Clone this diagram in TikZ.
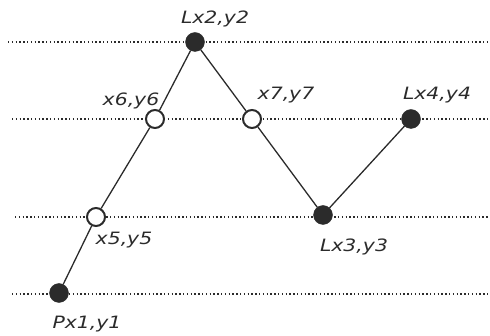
\documentclass[tikz,border=0pt]{standalone}
\usepackage{fontspec}
\newfontfamily\ptfont{DejaVu Sans}[FakeStretch=1.2]
\usetikzlibrary{positioning}
\definecolor{ink}{HTML}{2B2B2B}

\begin{document}
\begin{tikzpicture}[
        x=1pt, y=-1pt,
        every node/.style={font=\ptfont\itshape\fontsize{17}{19}\selectfont, text=ink},
        fixed/.style={circle, draw=ink, fill=ink, minimum size=19pt, inner sep=0pt},
        free/.style={circle, draw=ink, line width=2pt, fill=white, minimum size=18pt, inner sep=0pt},
        ptlabel/.style={anchor=base, inner sep=0pt},
        guide/.style={ink, line width=1.1pt, dash pattern=on 1.4pt off 2.4pt},
        link/.style={ink, line width=1.3pt}
        ]
    \useasboundingbox (0,0) rectangle (490,336);

    % dotted levels
    \draw[guide] (8,42) -- (490,42);
    \draw[guide] (12,119) -- (490,119);
    \draw[guide] (15,217) -- (490,217);
    \draw[guide] (12,294) -- (490,294);

    % points on the levels
    \node[fixed] (p1) at (59,293) {};
    \node[free] (x5) at (96,217) {};
    \node[free] (x6) at (155,119) {};
    \node[fixed] (l2) at (195,42) {};
    \node[free] (x7) at (252,119) {};
    \node[fixed] (l3) at (323,215) {};
    \node[fixed] (l4) at (411,119) {};

    % polyline through the points
    \draw[link] (p1) -- (x5);
    \draw[link] (x5) -- (x6);
    \draw[link] (x6) -- (l2);
    \draw[link] (l2) -- (x7);
    \draw[link] (x7) -- (l3);
    \draw[link] (l3) -- (l4);

    % coordinate labels
    \node[ptlabel] (t2) at (215,24) {Lx2,y2};
    \node[ptlabel] (t6) at (131,106) {x6,y6};
    \node[ptlabel] (t7) at (286,100) {x7,y7};
    \node[ptlabel] (t4) at (437,100) {Lx4,y4};
    \node[ptlabel] (t5) at (124,245) {x5,y5};
    \node[ptlabel] (t3) at (354,252) {Lx3,y3};
    \node[ptlabel] (t1) at (87,329) {Px1,y1};
\end{tikzpicture}
\end{document}
